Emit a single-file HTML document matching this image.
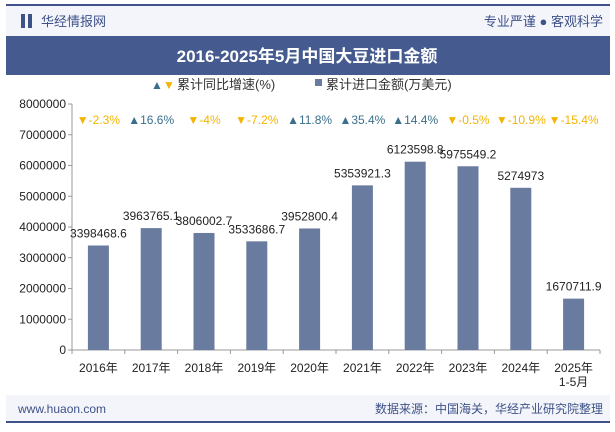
<!DOCTYPE html>
<html><head><meta charset="utf-8"><style>
body{margin:0;width:615px;height:427px;overflow:hidden;background:#fff;font-family:"Liberation Sans","Noto Sans CJK SC",sans-serif;}
</style></head><body>
<svg width="615" height="427" xmlns="http://www.w3.org/2000/svg" font-family="Liberation Sans, Noto Sans CJK SC, sans-serif">
<rect x="0" y="0" width="615" height="427" fill="#fff"/>
<rect x="6" y="4" width="604" height="32" fill="#f3f5fa"/>
<rect x="6" y="4" width="604" height="2" fill="#3e5188"/>
<rect x="21" y="14" width="4" height="14" fill="#3e5188"/><rect x="28" y="14" width="4" height="14" fill="#3e5188"/>
<text x="41" y="26" font-size="13" fill="#3e5188">华经情报网</text>
<text x="603" y="26" font-size="13" fill="#3e5188" text-anchor="end">专业严谨 ● 客观科学</text>
<rect x="6" y="36" width="604" height="39" fill="#455b8f"/>
<text x="307" y="62" font-size="17" font-weight="bold" fill="#fff" text-anchor="middle">2016-2025年5月中国大豆进口金额</text>
<g font-size="13" fill="#333">
<text x="151" y="89" fill="#3a6f8c" font-size="12">▲</text><text x="163" y="89" fill="#f2b400" font-size="12">▼</text>
<text x="177" y="89">累计同比增速(%)</text>
<rect x="315" y="79" width="7" height="7" fill="#6a7ba0"/>
<text x="326" y="89">累计进口金额(万美元)</text>
</g>
<g id="plot"></g>
<rect x="6" y="395" width="604" height="28" fill="#f3f5fa"/>
<rect x="6" y="421" width="604" height="2" fill="#3e5188"/>
<text x="18" y="413" font-size="12" fill="#3e5188">www.huaon.com</text>
<text x="603" y="413" font-size="12" fill="#3e5188" text-anchor="end">数据来源：中国海关，华经产业研究院整理</text>
</svg>
<script>
const categories=["2016年","2017年","2018年","2019年","2020年","2021年","2022年","2023年","2024年","2025年"];
const values=[3398468.6,3963765.1,3806002.7,3533686.7,3952800.4,5353921.3,6123598.8,5975549.2,5274973,1670711.9];
const growth=[-2.3,16.6,-4,-7.2,11.8,35.4,14.4,-0.5,-10.9,-15.4];
const yTicks=[0,1000000,2000000,3000000,4000000,5000000,6000000,7000000,8000000];
const NS="http://www.w3.org/2000/svg";
const g=document.getElementById('plot');
const x0=72,x1=600,y0=350,y1=104,ymax=8000000;
const bw=(x1-x0)/categories.length;
const X=i=>x0+bw*(i+0.5);
const Y=v=>y0-(v/ymax)*(y0-y1);
function mk(t,a,p){const e=document.createElementNS(NS,t);for(const k in a)e.setAttribute(k,a[k]);(p||g).appendChild(e);return e;}
yTicks.forEach(v=>{
 const t=mk('text',{x:x0-6,y:Y(v)+4,'font-size':12,'text-anchor':'end',fill:'#222'});t.textContent=v;
 
 
 mk('line',{x1:x0-4,x2:x0,y1:Y(v),y2:Y(v),stroke:'#999'});
});
mk('line',{x1:x0,x2:x0,y1:y1,y2:y0,stroke:'#999'});
mk('line',{x1:x0,x2:x1,y1:y0,y2:y0,stroke:'#999'});
categories.forEach((c,i)=>{
 mk('line',{x1:x0+bw*i,x2:x0+bw*i,y1:y0,y2:y0+4,stroke:'#999'});
 const b=mk('rect',{x:X(i)-10.5,y:Y(values[i]),width:21,height:y0-Y(values[i]),fill:'#6a7ba0'});
 
 
 const l=mk('text',{x:X(i),y:Y(values[i])-8,'font-size':12,'text-anchor':'middle',fill:'#222'});l.textContent=values[i];
 
 
 const t=mk('text',{x:X(i),y:372,'font-size':12,'text-anchor':'middle',fill:'#222'});t.textContent=c;
 
 
 const up=growth[i]>=0;
 const gr=mk('text',{x:X(i),y:124,'font-size':12,'text-anchor':'middle',fill:up?'#3a6f8c':'#f2b400'});gr.textContent=(up?'▲':'▼')+growth[i]+'%';
 
 
});
mk('line',{x1:x1,x2:x1,y1:y0,y2:y0+4,stroke:'#999'});
const sub=mk('text',{x:X(9),y:386,'font-size':12,'text-anchor':'middle',fill:'#222'});sub.textContent='1-5月';


</script>
</body></html>
